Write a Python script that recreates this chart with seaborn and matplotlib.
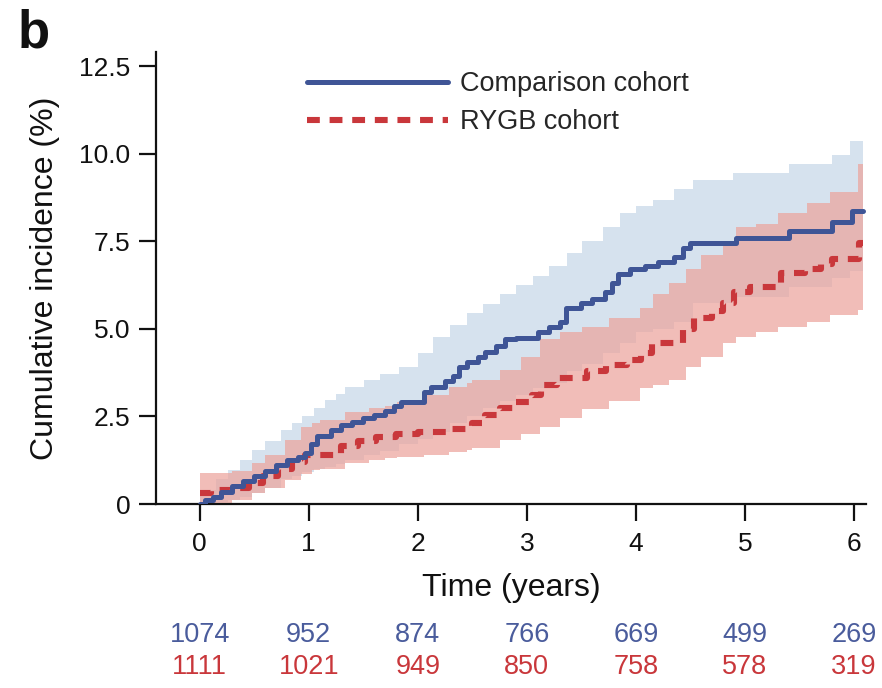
import numpy as np
import pandas as pd
import matplotlib
matplotlib.use("Agg")
import matplotlib.pyplot as plt
from matplotlib.lines import Line2D
import seaborn as sns

sns.set_style("ticks")
plt.rcParams["font.family"] = ["Liberation Sans", "DejaVu Sans"]

# Kaplan-Meier style cumulative incidence (%), step changes
comp_time = [0.0, 0.05, 0.12, 0.2, 0.3, 0.4, 0.5, 0.6, 0.7, 0.8, 0.9, 0.97, 1.02, 1.08,
             1.2, 1.3, 1.4, 1.5, 1.6, 1.7, 1.78, 1.85, 2.06, 2.12, 2.25, 2.32, 2.38, 2.45,
             2.55, 2.62, 2.72, 2.8, 2.9, 3.1, 3.2, 3.3, 3.36, 3.5, 3.6, 3.72, 3.78, 3.84,
             3.95, 4.08, 4.2, 4.35, 4.43, 4.5, 4.92, 5.4, 5.8, 5.98, 6.08]
comp_inc = [0.0, 0.1, 0.2, 0.35, 0.5, 0.65, 0.8, 0.95, 1.1, 1.25, 1.35, 1.45, 1.7, 1.95,
            2.1, 2.25, 2.35, 2.45, 2.55, 2.65, 2.8, 2.9, 3.2, 3.35, 3.5, 3.65, 3.9, 4.05,
            4.2, 4.35, 4.5, 4.7, 4.75, 4.9, 5.05, 5.2, 5.6, 5.75, 5.85, 6.05, 6.3, 6.55,
            6.7, 6.8, 6.9, 7.05, 7.3, 7.45, 7.6, 7.8, 8.05, 8.35, 8.35]

rygb_time = [0.0, 0.1, 0.3, 0.45, 0.58, 0.72, 0.85, 0.97, 1.3, 1.45, 1.62, 1.8, 2.0, 2.3,
             2.5, 2.62, 2.75, 2.9, 3.05, 3.13, 3.28, 3.55, 3.73, 3.92, 4.05, 4.15, 4.43,
             4.53, 4.7, 4.8, 4.9, 5.05, 5.33, 5.55, 5.7, 5.8, 6.05, 6.08]
rygb_inc = [0.3, 0.4, 0.45, 0.6, 0.8, 1.0, 1.2, 1.4, 1.65, 1.8, 1.9, 2.0, 2.05, 2.15,
            2.3, 2.55, 2.75, 2.9, 3.1, 3.4, 3.6, 3.8, 3.98, 4.1, 4.3, 4.6, 5.0,
            5.3, 5.5, 5.75, 6.05, 6.2, 6.6, 6.7, 6.85, 7.0, 7.45, 7.45]

# 95% confidence bands
comp_ci_time = [0.0, 0.15, 0.26, 0.37, 0.48, 0.6, 0.75, 0.85, 0.94, 1.05, 1.15, 1.25, 1.33,
                1.51, 1.65, 1.83, 2.0, 2.14, 2.3, 2.45, 2.6, 2.75, 2.9, 3.06, 3.2, 3.37,
                3.51, 3.7, 3.85, 4.0, 4.16, 4.35, 4.52, 4.89, 5.4, 5.8, 5.96, 6.08]
comp_ci_hi = [0.4, 0.7, 0.97, 1.25, 1.54, 1.8, 2.1, 2.3, 2.5, 2.75, 2.97, 3.15, 3.35,
              3.54, 3.7, 3.9, 4.3, 4.77, 5.1, 5.45, 5.7, 6.0, 6.25, 6.5, 6.8, 7.16,
              7.5, 7.9, 8.3, 8.5, 8.68, 9.0, 9.25, 9.45, 9.7, 9.97, 10.35, 10.35]
comp_ci_lo = [0.0, 0.05, 0.1, 0.2, 0.3, 0.45, 0.7, 0.8, 0.9, 1.0, 1.05, 1.15, 1.25,
              1.4, 1.5, 1.7, 1.85, 2.05, 2.3, 2.5, 2.75, 2.95, 3.1, 3.3, 3.45, 3.8,
              4.0, 4.3, 4.6, 4.9, 5.0, 5.2, 5.75, 5.9, 6.2, 6.45, 6.65, 6.65]

rygb_ci_time = [0.0, 0.3, 0.48, 0.6, 0.78, 0.93, 1.03, 1.1, 1.33, 1.55, 1.7, 1.81, 2.06,
                2.29, 2.45, 2.5, 2.75, 2.95, 3.12, 3.3, 3.51, 3.75, 4.04, 4.16, 4.3, 4.46,
                4.6, 4.8, 4.92, 5.1, 5.3, 5.57, 5.78, 6.04, 6.08]
rygb_ci_hi = [0.89, 0.95, 1.17, 1.4, 1.83, 2.2, 2.3, 2.4, 2.63, 2.75, 2.8, 2.9, 3.1,
              3.35, 3.45, 3.55, 3.83, 4.2, 4.7, 4.9, 5.06, 5.3, 5.6, 6.0, 6.3, 6.7,
              7.1, 7.45, 7.9, 8.0, 8.3, 8.6, 8.9, 9.7, 9.7]
rygb_ci_lo = [0.0, 0.1, 0.3, 0.45, 0.69, 0.85, 0.97, 1.0, 1.17, 1.25, 1.31, 1.35, 1.4,
              1.48, 1.54, 1.6, 1.83, 2.0, 2.2, 2.45, 2.7, 2.95, 3.3, 3.4, 3.54, 3.9,
              4.2, 4.6, 4.77, 4.9, 5.06, 5.2, 5.4, 5.55, 5.55]

# Numbers at risk
risk_years = [0, 1, 2, 3, 4, 5, 6]
comp_at_risk = [1074, 952, 874, 766, 669, 499, 269]
rygb_at_risk = [1111, 1021, 949, 850, 758, 578, 319]

y_ticks = [0, 2.5, 5.0, 7.5, 10.0, 12.5]
y_tick_labels = ["0", "2.5", "5.0", "7.5", "10.0", "12.5"]

BLUE = "#3f5596"
RED = "#c9373b"
BLUE_BAND = "#d6e2ee"
RED_BAND = "#eca29b"

fig = plt.figure(figsize=(8.82, 6.88), dpi=100)
ax = fig.add_axes([156 / 882, 1 - 504 / 688, (866 - 156) / 882, (504 - 52) / 688])

ax.fill_between(comp_ci_time, comp_ci_lo, comp_ci_hi, step="post",
                color=BLUE_BAND, linewidth=0, zorder=1)
ax.fill_between(rygb_ci_time, rygb_ci_lo, rygb_ci_hi, step="post",
                color=RED_BAND, alpha=0.7, linewidth=0, zorder=2)

rygb_df = pd.DataFrame({"time": rygb_time, "inc": rygb_inc})
comp_df = pd.DataFrame({"time": comp_time, "inc": comp_inc})

sns.lineplot(data=rygb_df, x="time", y="inc", ax=ax, estimator=None,
             drawstyle="steps-post", color=RED, linewidth=4.4,
             linestyle=(0, (2.1, 1.6)), zorder=3)
sns.lineplot(data=comp_df, x="time", y="inc", ax=ax, estimator=None,
             drawstyle="steps-post", color=BLUE, linewidth=3.6, zorder=4)

ax.set_xlim(-0.4, 6.11)
ax.set_ylim(0, 12.9)
ax.set_xticks(risk_years)
ax.set_xticklabels([str(v) for v in risk_years])
ax.set_yticks(y_ticks)
ax.set_yticklabels(y_tick_labels)

for side in ("top", "right"):
    ax.spines[side].set_visible(False)
for side in ("left", "bottom"):
    ax.spines[side].set_linewidth(1.6)
    ax.spines[side].set_color("#111111")
ax.tick_params(axis="both", direction="out", length=12.5, width=1.6,
               color="#111111", labelsize=19, labelcolor="#111111")
ax.tick_params(axis="x", pad=8)
ax.tick_params(axis="y", pad=6)

ax.set_xlabel("Time (years)", fontsize=23, labelpad=12, color="#111111")
ax.set_ylabel("Cumulative incidence (%)", fontsize=23, labelpad=14, color="#111111")

handles = [
    Line2D([0], [0], color=BLUE, linewidth=3.6),
    Line2D([0], [0], color=RED, linewidth=4.4, linestyle=(0, (2.1, 1.6))),
]
fig.legend(handles, ["Comparison cohort", "RYGB cohort"], loc="upper left",
           bbox_to_anchor=(307 / 882, 1 - 71 / 688), frameon=False, fontsize=19.5,
           handlelength=5.2, handletextpad=0.45, labelspacing=0.45,
           borderpad=0, borderaxespad=0)

# numbers at risk under the time axis
trans = ax.get_xaxis_transform()
for t, nc, nr in zip(risk_years, comp_at_risk, rygb_at_risk):
    ax.text(t, (504 - 635) / 452, str(nc), transform=trans, ha="center", va="center",
            fontsize=19.5, color="#4a5c9c", clip_on=False)
    ax.text(t, (504 - 667) / 452, str(nr), transform=trans, ha="center", va="center",
            fontsize=19.5, color=RED, clip_on=False)

fig.text(18 / 882, 1 - 8 / 688, "b", fontsize=38, fontweight="bold",
         ha="left", va="top", color="#111111")

fig.savefig("out.png", dpi=100)
